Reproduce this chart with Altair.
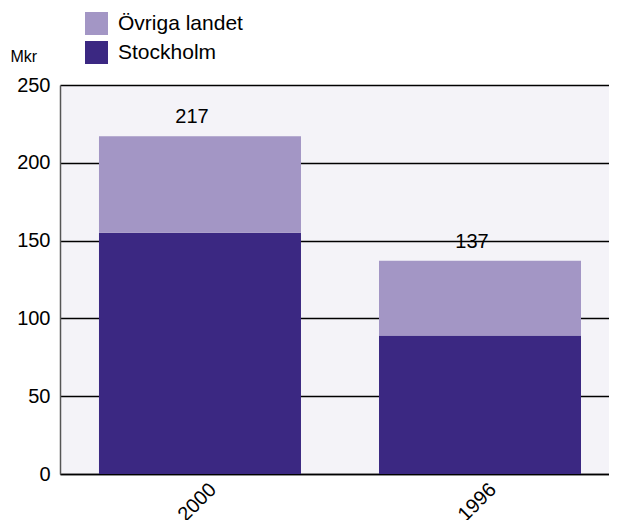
import altair as alt
import pandas as pd

years = ["2000", "1996"]
stockholm = [155, 89]
ovriga = [62, 48]
totals = [217, 137]
series = ["Övriga landet", "Stockholm"]
colors = ["#a396c5", "#3b2882"]

rows = []
for i, y in enumerate(years):
    rows.append({"year": y, "serie": "Stockholm", "value": stockholm[i], "ord": 1})
    rows.append({"year": y, "serie": "Övriga landet", "value": ovriga[i], "ord": 2})
df = pd.DataFrame(rows)
tot = pd.DataFrame({"year": years, "total": totals})

FONT = "Liberation Sans"

xenc = alt.X("year:N", sort=years, title=None,
             scale=alt.Scale(paddingInner=0.2786, paddingOuter=0.1196, align=0.582),
             axis=alt.Axis(labelAngle=-45, labelAlign="right", labelBaseline="top",
                           labelOffset=6, labelPadding=5, ticks=False,
                           domainColor="black", domainWidth=1.5,
                           labelFontSize=20, labelColor="black", labelFont=FONT))

bars = alt.Chart(df).mark_bar().encode(
    x=xenc,
    y=alt.Y("value:Q", stack="zero",
            scale=alt.Scale(domain=[0, 250], nice=False),
            axis=alt.Axis(values=[0, 50, 100, 150, 200, 250], ticks=False,
                          grid=True, gridColor="black", gridWidth=1.5,
                          domainColor="#555555", domainWidth=1.5,
                          labelFontSize=20, labelColor="black", labelFont=FONT,
                          labelPadding=10,
                          title="Mkr", titleAngle=0, titleX=-50, titleY=-24,
                          titleAlign="left", titleBaseline="alphabetic",
                          titleFontSize=16, titleFontWeight="normal",
                          titleColor="black", titleFont=FONT)),
    color=alt.Color("serie:N",
                    scale=alt.Scale(domain=series, range=colors),
                    legend=alt.Legend(title=None, orient="none", legendX=25, legendY=-73,
                                      symbolType="square", symbolSize=529,
                                      symbolStrokeWidth=0, symbolOpacity=1,
                                      labelFontSize=21, labelFont=FONT, labelColor="black",
                                      rowPadding=6, labelOffset=10)),
    order=alt.Order("ord:Q", sort="ascending"),
)

labels = alt.Chart(tot).mark_text(
    baseline="bottom", align="center", dy=-9, dx=-8, fontSize=20, font=FONT, color="black"
).encode(
    x=alt.X("year:N", sort=years),
    y=alt.Y("total:Q"),
    text=alt.Text("total:Q"),
)

chart = alt.layer(bars, labels).properties(
    width=549, height=389,
    autosize=alt.AutoSizeParams(type="none"),
    padding={"left": 52, "top": 77, "right": 0, "bottom": 46},
    background="white",
).configure_view(fill="#f4f3f8", stroke=None)

chart.save("out.html", embed_options={"renderer": "svg", "actions": False})
